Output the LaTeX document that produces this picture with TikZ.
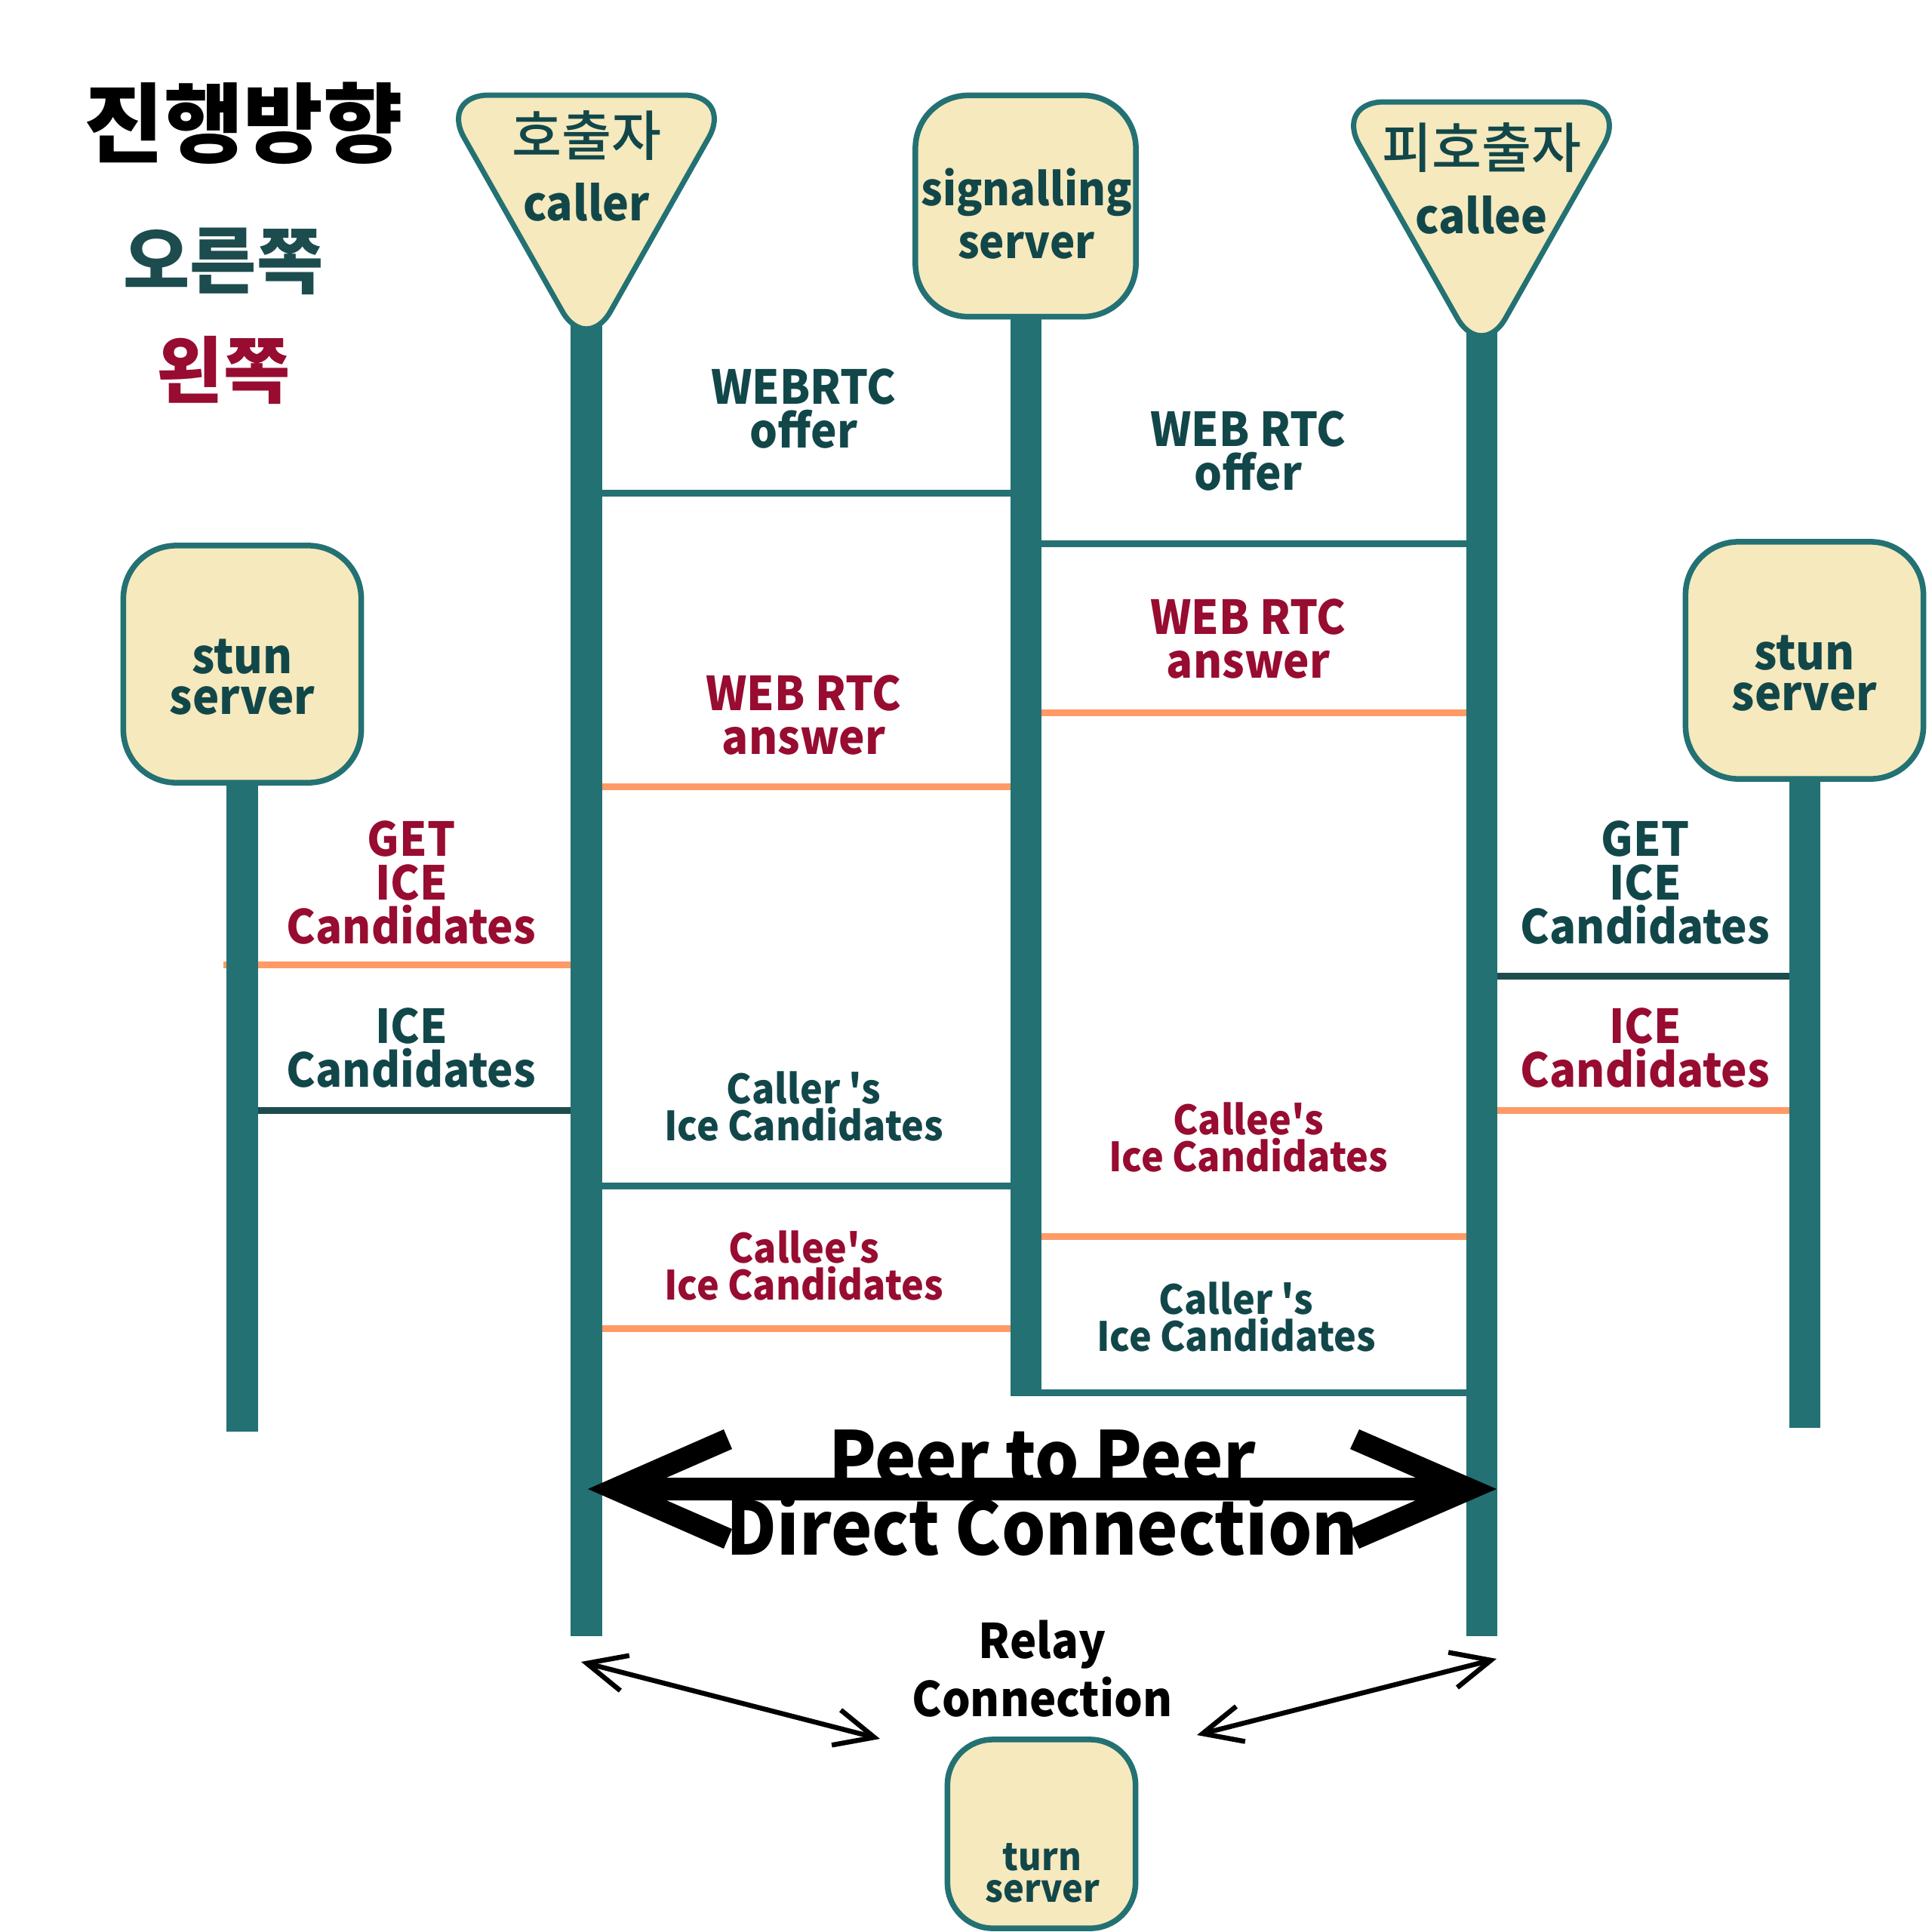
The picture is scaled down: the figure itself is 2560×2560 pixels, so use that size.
\documentclass[tikz,border=0pt]{standalone}
\usepackage{fontspec}
\setmainfont{Noto Sans CJK KR}
\newfontfamily\lat{Noto Sans CJK KR}[FakeStretch=0.94]
\IfFontExistsTF{Noto Sans CJK KR Medium}{\newfontfamily\kmed{Noto Sans CJK KR Medium}}{\newcommand{\kmed}{\bfseries}}
\usetikzlibrary{arrows.meta,calc}
\definecolor{teal1}{HTML}{237173}
\definecolor{dteal}{HTML}{12474A}
\definecolor{lteal}{HTML}{1C4C4E}
\definecolor{crim}{HTML}{970C30}
\definecolor{orng}{HTML}{FF9A66}
\definecolor{cream}{HTML}{F5E9BD}
\newcommand{\apos}{{\char39}}
\tikzset{
 life/.style={line width=0.41cm, draw=teal1},
 msgteal/.style={line width=0.09cm, draw=teal1},
 msgdark/.style={line width=0.09cm, draw=lteal},
 msgorng/.style={line width=0.09cm, draw=orng},
 box/.style={draw=teal1, fill=cream, line width=0.075cm, rounded corners=0.7cm, inner sep=0pt},
 sign/.style={draw=teal1, fill=cream, line width=0.07cm, rounded corners=0.65cm},
 lbl/.style={font=\lat\fontsize{17.6}{16.5}\selectfont\bfseries, align=center, inner sep=0pt},
 lblsm/.style={font=\lat\fontsize{15.2}{14}\selectfont\bfseries, align=center, inner sep=0pt},
 tcol/.style={text=dteal},
 rcol/.style={text=crim},
 relay/.style={line width=0.065cm, draw=black, {Straight Barb[length=0.52cm,width=0.48cm]}-{Straight Barb[length=0.52cm,width=0.48cm]}},
}
\begin{document}
\begin{tikzpicture}[x=0.01cm,y=-0.01cm]
\useasboundingbox[fill=white] (0,0) rectangle (2560,2560);

% lifeline x positions and message levels
\coordinate (cX) at (777,0);
\coordinate (sX) at (1359,0);
\coordinate (eX) at (1963,0);
\coordinate (lX) at (321,0);
\coordinate (rX) at (2391,0);
\coordinate (oL) at (296,0);
\coordinate (m1) at (0,653);
\coordinate (m2) at (0,1042);
\coordinate (m3) at (0,1571);
\coordinate (m4) at (0,1760);
\coordinate (n1) at (0,720);
\coordinate (n2) at (0,944);
\coordinate (n3) at (0,1638);
\coordinate (n4) at (0,1845);
\coordinate (l1) at (0,1278);
\coordinate (l2) at (0,1471);
\coordinate (r1) at (0,1293);
\coordinate (r2) at (0,1471);

% messages
\draw[msgteal] (cX |- m1) -- (sX |- m1);
\draw[msgorng] (cX |- m2) -- (sX |- m2);
\draw[msgteal] (cX |- m3) -- (sX |- m3);
\draw[msgorng] (cX |- m4) -- (sX |- m4);
\draw[msgteal] (sX |- n1) -- (eX |- n1);
\draw[msgorng] (sX |- n2) -- (eX |- n2);
\draw[msgorng] (sX |- n3) -- (eX |- n3);
\draw[msgteal] (sX |- n4) -- (eX |- n4);
\draw[msgorng] (oL |- l1) -- (cX |- l1);
\draw[msgdark] (lX |- l2) -- (cX |- l2);
\draw[msgdark] (eX |- r1) -- (rX |- r1);
\draw[msgorng] (eX |- r2) -- (rX |- r2);

% boxes
\node[box, minimum width=3.15cm, minimum height=3.14cm] (stunL) at (321,880) {};
\node[box, minimum width=3.15cm, minimum height=3.14cm] (stunR) at (2391,875) {};
\node[box, minimum width=2.92cm, minimum height=2.93cm] (sig) at (1359,273) {};
\node[box, minimum width=2.49cm, minimum height=2.50cm, rounded corners=0.6cm] (turn) at (1380,2430) {};

% lifelines
\coordinate (cTip) at (777,430);
\coordinate (cEnd) at (777,2168);
\coordinate (eTip) at (1963,439);
\coordinate (eEnd) at (1963,2168);
\coordinate (sEnd) at (1359,1850);
\coordinate (lEnd) at (321,1897);
\coordinate (rEnd) at (2391,1892);
\draw[life] (cTip) -- (cEnd);
\draw[life] (eTip) -- (eEnd);
\draw[life] (sig.south) -- (sEnd);
\draw[life] (stunL.south) -- (lEnd);
\draw[life] (stunR.south) -- (rEnd);

% caller / callee signs
\filldraw[sign] (777,126) -- (971,126) -- (777,469) -- (583,126) -- cycle;
\begin{scope}[shift={(1186,9)}]
\filldraw[sign] (777,126) -- (971,126) -- (777,469) -- (583,126) -- cycle;
\end{scope}

% texts in shapes
\node[font=\kmed\fontsize{20.4}{20}\selectfont, text=dteal, inner sep=0pt] (callerK) at (777,180) {호출자};
\node[font=\lat\fontsize{17.8}{20}\selectfont\bfseries, text=dteal, inner sep=0pt] (callerT) at (777,268) {caller};
\node[font=\kmed\fontsize{20.4}{20}\selectfont, text=dteal, inner sep=0pt] (calleeK) at (1963,196) {피호출자};
\node[font=\lat\fontsize{17.8}{20}\selectfont\bfseries, text=dteal, inner sep=0pt] (calleeT) at (1963,285) {callee};
\node[font=\lat\fontsize{17}{20}\selectfont\bfseries, align=center, tcol, inner sep=0pt] (sigT) at (1360,283) {signalling\\server};
\node[font=\lat\fontsize{18}{15.4}\selectfont\bfseries, align=center, tcol, inner sep=0pt] (stunLT) at (321,897) {stun\\server};
\node[font=\lat\fontsize{18}{15.4}\selectfont\bfseries, align=center, tcol, inner sep=0pt] (stunRT) at (2391,892) {stun\\server};
\node[font=\lat\fontsize{14.2}{12}\selectfont\bfseries, align=center, tcol, inner sep=0pt] (turnT) at (1381,2482) {turn\\server};

% titles
\node[font=\fontsize{32.7}{30}\selectfont\bfseries, inner sep=0pt] (title) at (323,163) {진행방향};
\node[font=\fontsize{27.3}{25}\selectfont\bfseries, text=lteal, inner sep=0pt] (right) at (296,346) {오른쪽};
\node[font=\fontsize{27.3}{25}\selectfont\bfseries, text=crim, inner sep=0pt] (left) at (296,490) {왼쪽};

% message labels
\node[lbl, tcol] (t1) at (1065,541) {WEBRTC\\offer};
\node[lbl, tcol] (t2) at (1654,597) {WEB RTC\\offer};
\node[lbl, rcol] (t3) at (1065,947) {WEB RTC\\answer};
\node[lbl, rcol] (t4) at (1654,846) {WEB RTC\\answer};
\node[lbl, rcol] (t5) at (545,1169) {GET\\ICE\\Candidates};
\node[lbl, tcol] (t6) at (545,1388) {ICE\\Candidates};
\node[lbl, tcol] (t7) at (2180,1169) {GET\\ICE\\Candidates};
\node[lbl, rcol] (t8) at (2180,1388) {ICE\\Candidates};
\node[lblsm, tcol] (t9) at (1065,1466) {Caller \apos s\\Ice Candidates};
\node[lblsm, rcol] (t10) at (1065,1677) {Callee\apos s\\Ice Candidates};
\node[lblsm, rcol] (t11) at (1654,1507) {Callee\apos s\\Ice Candidates};
\node[lblsm, tcol] (t12) at (1638,1745) {Caller \apos s\\Ice Candidates};

% peer to peer double arrow
\coordinate (pL) at (779,1973);
\coordinate (pR) at (1983,1973);
\fill[black] (pL) -- ++(180,-79) -- ++(11,26) -- ++(-87,38)
  -- ($(pR)+(-107,-15)$) -- ++(-87,-38) -- ++(12,-26) -- (pR)
  -- ++(-182,79) -- ++(-12,-26) -- ++(87,-38)
  -- ($(pL)+(104,15)$) -- ++(87,38) -- ++(-11,26) -- cycle;
\node[font=\lat\fontsize{27.8}{26.5}\selectfont\bfseries, align=center, inner sep=0pt] (p2p) at (1381,1978) {Peer to Peer\\Direct Connection};

% relay
\coordinate (rl1) at (770,2202);
\coordinate (rl2) at (1166,2304);
\coordinate (rr1) at (1586,2299);
\coordinate (rr2) at (1983,2198);
\draw[relay] (rl1) -- (rl2);
\draw[relay] (rr1) -- (rr2);
\node[font=\lat\fontsize{18}{22}\selectfont\bfseries, align=center, inner sep=0pt] (relayT) at (1381,2211) {Relay\\Connection};
\end{tikzpicture}
\end{document}
